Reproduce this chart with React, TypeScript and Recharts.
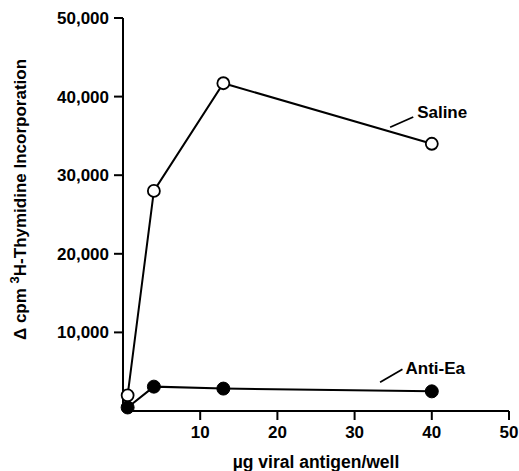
import React from 'react';
import { LineChart, Line, XAxis, YAxis, ReferenceLine, ReferenceDot } from 'recharts';

// antigen dose (ug/well) and delta cpm for each group
const doses = [0.6, 4, 13, 40];
const saline = [2000, 28000, 41700, 34000];
const antiEa = [450, 3100, 2850, 2500];

const xTicks = [10, 20, 30, 40, 50];
const yTicks = [10000, 20000, 30000, 40000, 50000];

const FONT = '"Liberation Sans", Arial, Helvetica, sans-serif';

const chartData = doses.map((dose, i) => ({
  dose,
  saline: saline[i],
  antiEa: antiEa[i],
}));

const fmt = (v: number) => v.toLocaleString('en-US');

const YLabel = (props: any) => {
  const { viewBox } = props;
  const x = viewBox.x + 26;
  const y = viewBox.y + viewBox.height / 2 - 15;
  return (
    <text
      x={x}
      y={y}
      transform={`rotate(-90, ${x}, ${y})`}
      textAnchor="middle"
      fontFamily={FONT}
      fontWeight="bold"
      fontSize={17}
      fill="#000"
    >
      <tspan>Δ cpm </tspan>
      <tspan dy={-7} fontSize={13}>3</tspan>
      <tspan dy={7}>H-Thymidine Incorporation</tspan>
    </text>
  );
};

const XLabel = (props: any) => {
  const { viewBox } = props;
  return (
    <text
      x={viewBox.x + viewBox.width / 2}
      y={viewBox.y + 57}
      textAnchor="middle"
      fontFamily={FONT}
      fontWeight="bold"
      fontSize={17.5}
      fill="#000"
    >
      µg viral antigen/well
    </text>
  );
};

const tagStyle = { fontFamily: FONT, fontWeight: 'bold', fontSize: 17, fill: '#000' };
const tickStyle = { fill: '#000', fontFamily: FONT, fontWeight: 'bold', fontSize: 17 };

const App = () => {
  return (
    <div style={{ position: 'absolute', left: 0, top: 0, width: 519, height: 471 }}>
      <LineChart
        width={519}
        height={471}
        data={chartData}
        margin={{ top: 18, right: 10, left: 0, bottom: 0 }}
      >
        <XAxis
          dataKey="dose"
          type="number"
          domain={[0, 50]}
          ticks={xTicks}
          height={60}
          tickSize={9}
          tickMargin={6}
          axisLine={{ stroke: '#000', strokeWidth: 2 }}
          tickLine={{ stroke: '#000', strokeWidth: 2 }}
          tick={tickStyle}
          label={<XLabel />}
        />
        <YAxis
          type="number"
          domain={[0, 50000]}
          ticks={yTicks}
          width={123}
          tickSize={9}
          tickMargin={5}
          tickFormatter={fmt}
          axisLine={{ stroke: '#000', strokeWidth: 2 }}
          tickLine={{ stroke: '#000', strokeWidth: 2 }}
          tick={tickStyle}
          label={<YLabel />}
        />
        <Line
          dataKey="saline"
          stroke="#000"
          strokeWidth={2}
          dot={{ r: 6, fill: '#fff', stroke: '#000', strokeWidth: 1.8 }}
          isAnimationActive={false}
        />
        <Line
          dataKey="antiEa"
          stroke="#000"
          strokeWidth={2}
          dot={{ r: 6.5, fill: '#000', stroke: '#000', strokeWidth: 1 }}
          isAnimationActive={false}
        />
        <ReferenceLine
          segment={[{ x: 34.6, y: 36100 }, { x: 37.6, y: 37400 }]}
          stroke="#000"
          strokeWidth={1.8}
        />
        <ReferenceDot
          x={38.1}
          y={38000}
          r={0}
          stroke="none"
          label={{ value: 'Saline', position: 'right', offset: 0, ...tagStyle }}
        />
        <ReferenceLine
          segment={[{ x: 33.3, y: 3650 }, { x: 36.2, y: 5300 }]}
          stroke="#000"
          strokeWidth={1.8}
        />
        <ReferenceDot
          x={36.6}
          y={5500}
          r={0}
          stroke="none"
          label={{ value: 'Anti-Ea', position: 'right', offset: 0, ...tagStyle }}
        />
      </LineChart>
    </div>
  );
};

export default App;
